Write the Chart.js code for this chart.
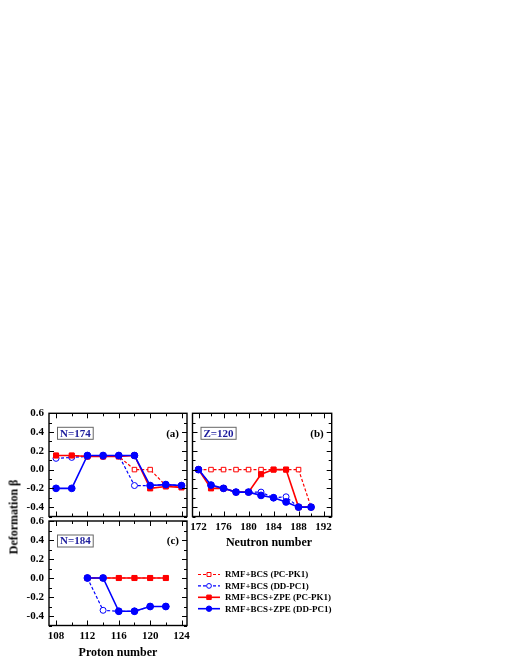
<!DOCTYPE html>
<html>
<head>
<meta charset="utf-8">
<script src="https://cdn.jsdelivr.net/npm/chart.js@4"></script>
<style>
  body { margin: 0; background: #fff; }
  #wrap { position: relative; width: 510px; height: 660px; }
  #wrap canvas { position: absolute; left: 0; top: 0; }
  .ttl { position: absolute; font: bold 12px "Liberation Serif", serif; color: #000; white-space: nowrap; }
</style>
</head>
<body>
<div id="wrap">
  <canvas id="panelA" width="510" height="660"></canvas>
  <canvas id="panelB" width="510" height="660"></canvas>
  <canvas id="panelC" width="510" height="660"></canvas>
  <div class="ttl" style="left:14px;top:517px;transform:translate(-50%,-50%) rotate(-90deg)">Deformation β</div>
  <div class="ttl" style="left:118px;top:652px;transform:translate(-50%,-50%)">Proton number</div>
  <div class="ttl" style="left:269px;top:542px;transform:translate(-50%,-50%)">Neutron number</div>
</div>
<script>
'use strict';

// series names (legend)
const seriesNames = ['RMF+BCS (PC-PK1)', 'RMF+BCS (DD-PC1)', 'RMF+BCS+ZPE (PC-PK1)', 'RMF+BCS+ZPE (DD-PC1)'];

// tick labels
const yTicks = [-0.4, -0.2, 0.0, 0.2, 0.4, 0.6];
const protonTicks = [108, 112, 116, 120, 124];
const neutronTicks = [172, 176, 180, 184, 188, 192];

// (a) N=174
const protonA   = [108, 110, 112, 114, 116, 118, 120, 122, 124];
const aBcsPK1   = [0.15, 0.15, 0.14, 0.14, 0.14, 0.0, 0.0, -0.17, -0.18];
const aBcsDD    = [0.12, 0.13, 0.14, 0.14, 0.15, -0.17, -0.17, -0.16, -0.17];
const aZpePK1   = [0.15, 0.15, 0.14, 0.14, 0.14, 0.15, -0.2, -0.18, -0.19];
const aZpeDD    = [-0.2, -0.2, 0.15, 0.15, 0.15, 0.15, -0.17, -0.16, -0.17];

// (b) Z=120
const neutronB  = [172, 174, 176, 178, 180, 182, 184, 186, 188, 190];
const bBcsPK1   = [0, 0, 0, 0, 0, 0, 0, 0, 0, -0.4];
const bBcsDD    = [0, -0.17, -0.2, -0.24, -0.24, -0.24, -0.3, -0.29, -0.4, -0.4];
const bZpePK1   = [0, -0.2, -0.2, -0.24, -0.24, -0.05, 0, 0, -0.4, -0.4];
const bZpeDD    = [0, -0.165, -0.2, -0.24, -0.24, -0.275, -0.3, -0.345, -0.4, -0.4];

// (c) N=184
const protonC   = [112, 114, 116, 118, 120, 122];
const cBcsPK1   = [0, 0, 0, 0, 0, 0];
const cBcsDD    = [0, -0.34, -0.35, -0.35, -0.3, -0.3];
const cZpePK1   = [0, 0, 0, 0, 0, 0];
const cZpeDD    = [0, 0, -0.35, -0.35, -0.3, -0.3];

const RED = '#ff0000', BLUE = '#0000ff', TAG = '#1c1c9c';

Chart.defaults.font.family = '"Liberation Serif", serif';
Chart.defaults.font.weight = 'bold';
Chart.defaults.font.size = 11;
Chart.defaults.color = '#000';

function xy(xs, ys) { return xs.map((x, i) => ({ x, y: ys[i] })); }

function makeDatasets(xs, s1, s2, s3, s4) {
  const dash = { borderWidth: 1.2, borderDash: [3, 2], pointBackgroundColor: '#fff', pointBorderWidth: 1 };
  const solid = { borderWidth: 1.6, pointBorderWidth: 1 };
  return [
    { label: seriesNames[0], data: xy(xs, s1), borderColor: RED, pointStyle: 'rect', pointRadius: 3.2, order: 4, ...dash },
    { label: seriesNames[1], data: xy(xs, s2), borderColor: BLUE, pointStyle: 'circle', pointRadius: 3, order: 3, ...dash },
    { label: seriesNames[2], data: xy(xs, s3), borderColor: RED, backgroundColor: RED, pointBackgroundColor: RED, pointStyle: 'rect', pointRadius: 3.6, order: 2, ...solid },
    { label: seriesNames[3], data: xy(xs, s4), borderColor: BLUE, backgroundColor: BLUE, pointBackgroundColor: BLUE, pointStyle: 'circle', pointRadius: 3.4, order: 1, ...solid }
  ];
}

// frame + inward major/minor ticks on all four sides
const frameTicks = {
  id: 'frameTicks',
  afterDatasetsDraw(chart, args, opts) {
    const { ctx, chartArea: a, scales: { x, y } } = chart;
    ctx.save();
    ctx.strokeStyle = '#000';
    ctx.lineWidth = 1;
    ctx.beginPath();
    for (let v = Math.ceil(x.min / 2) * 2; v <= x.max; v += 2) {
      const px = Math.round(x.getPixelForValue(v)) + 0.5;
      const len = v % 4 === 0 ? 5 : 3;
      ctx.moveTo(px, a.bottom); ctx.lineTo(px, a.bottom - len);
      ctx.moveTo(px, a.top); ctx.lineTo(px, a.top + len);
    }
    for (let i = Math.ceil(y.min * 10); i <= Math.floor(y.max * 10 + 1e-6); i++) {
      const py = Math.round(y.getPixelForValue(i / 10)) + 0.5;
      const len = i % 2 === 0 ? 5 : 3;
      ctx.moveTo(a.left, py); ctx.lineTo(a.left + len, py);
      ctx.moveTo(a.right, py); ctx.lineTo(a.right - len, py);
    }
    ctx.stroke();
    ctx.lineWidth = 1.4;
    ctx.strokeRect(a.left, a.top, a.width, a.height);

    // panel tag and letter
    if (opts.tag) {
      ctx.font = 'bold 11px "Liberation Serif", serif';
      const w = ctx.measureText(opts.tag).width;
      const bx = a.left + 8.5, by = a.top + 14, bh = 12;
      ctx.fillStyle = '#fff';
      ctx.fillRect(bx, by, w + 5, bh);
      ctx.strokeStyle = '#666';
      ctx.lineWidth = 1;
      ctx.strokeRect(bx, by, w + 5, bh);
      ctx.fillStyle = TAG;
      ctx.textBaseline = 'middle';
      ctx.textAlign = 'left';
      ctx.fillText(opts.tag, bx + 2.5, by + bh / 2 + 0.5);
      ctx.fillStyle = '#000';
      ctx.textAlign = 'right';
      ctx.fillText(opts.letter, a.right - 8, by + bh / 2 + 0.5);
    }
    ctx.restore();
  }
};

// legend drawn from the datasets of the chart it is attached to
const sideLegend = {
  id: 'sideLegend',
  afterDraw(chart, args, opts) {
    if (!opts.show) return;
    const { ctx } = chart;
    ctx.save();
    ctx.font = 'bold 9px "Liberation Serif", serif';
    ctx.textBaseline = 'middle';
    ctx.textAlign = 'left';
    chart.data.datasets.forEach((ds, i) => {
      const y = opts.y + i * opts.step;
      ctx.strokeStyle = ds.borderColor;
      ctx.lineWidth = ds.borderWidth;
      ctx.setLineDash(ds.borderDash || []);
      ctx.beginPath();
      ctx.moveTo(opts.x, y); ctx.lineTo(opts.x + 22, y);
      ctx.stroke();
      ctx.setLineDash([]);
      ctx.fillStyle = ds.pointBackgroundColor;
      ctx.lineWidth = 1;
      ctx.beginPath();
      const r = ds.pointRadius * 0.8;
      if (ds.pointStyle === 'rect') {
        const s = r * Math.SQRT1_2 * 1.1;
        ctx.rect(opts.x + 11 - s, y - s, 2 * s, 2 * s);
      } else {
        ctx.arc(opts.x + 11, y, r, 0, Math.PI * 2);
      }
      ctx.fill(); ctx.stroke();
      ctx.fillStyle = '#000';
      ctx.fillText(ds.label, opts.x + 27, y + 0.5);
    });
    ctx.restore();
  }
};

function makePanel(id, xs, series, cfg) {
  new Chart(document.getElementById(id), {
    type: 'line',
    data: { datasets: makeDatasets(xs, ...series) },
    options: {
      responsive: false,
      animation: false,
      events: [],
      layout: { autoPadding: false, padding: cfg.padding },
      plugins: {
        legend: { display: false },
        tooltip: { enabled: false },
        frameTicks: { tag: cfg.tag, letter: cfg.letter },
        sideLegend: cfg.legend || { show: false }
      },
      scales: {
        x: {
          type: 'linear',
          min: cfg.xMin, max: cfg.xMax,
          grid: { display: false, drawTicks: false },
          border: { display: false },
          afterBuildTicks: s => { s.ticks = cfg.xTicks.map(v => ({ value: v })); },
          afterFit: s => { s.height = cfg.xLabels ? 20 : 0; },
          ticks: { display: cfg.xLabels, padding: 4, maxRotation: 0, autoSkip: false, callback: v => String(v) }
        },
        y: {
          min: -0.5, max: 0.6,
          grid: { display: false, drawTicks: false },
          border: { display: false },
          afterBuildTicks: s => { s.ticks = yTicks.map(v => ({ value: v })); },
          afterFit: s => { s.width = cfg.yLabels ? 49 : 0; },
          ticks: { display: cfg.yLabels, padding: 5, callback: v => v.toFixed(1) }
        }
      }
    },
    plugins: [frameTicks, sideLegend]
  });
}

makePanel('panelA', protonA, [aBcsPK1, aBcsDD, aZpePK1, aZpeDD], {
  padding: { left: 0, right: 323, top: 413.3, bottom: 143.5 },
  xMin: 107.1, xMax: 124.7, xTicks: protonTicks, xLabels: false, yLabels: true,
  tag: 'N=174', letter: '(a)'
});

makePanel('panelB', neutronB, [bBcsPK1, bBcsDD, bZpePK1, bZpeDD], {
  padding: { left: 192.5, right: 178.3, top: 413.3, bottom: 123.5 },
  xMin: 171.04, xMax: 193.3, xTicks: neutronTicks, xLabels: true, yLabels: false,
  tag: 'Z=120', letter: '(b)'
});

makePanel('panelC', protonC, [cBcsPK1, cBcsDD, cZpePK1, cZpeDD], {
  padding: { left: 0, right: 323, top: 521, bottom: 14.5 },
  xMin: 107.1, xMax: 124.7, xTicks: protonTicks, xLabels: true, yLabels: true,
  tag: 'N=184', letter: '(c)',
  legend: { show: true, x: 198, y: 574.5, step: 11.4 }
});
</script>
</body>
</html>
